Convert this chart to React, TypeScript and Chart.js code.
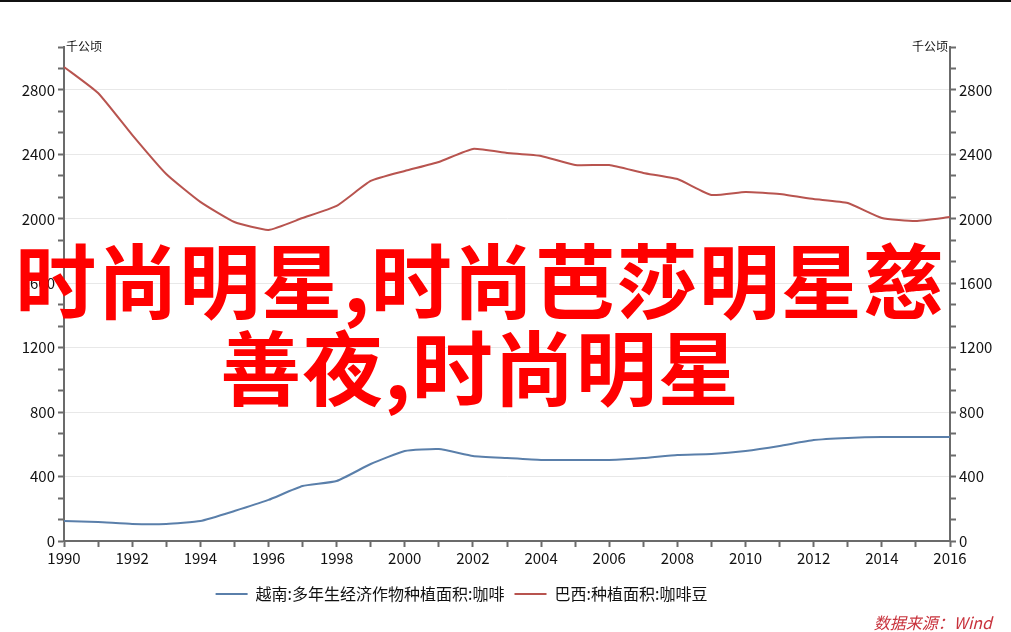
import React, { useEffect, useRef } from "react";
import { Chart, registerables } from "chart.js";

Chart.register(...registerables);

const years = [
  "1990", "1991", "1992", "1993", "1994", "1995", "1996", "1997", "1998", "1999",
  "2000", "2001", "2002", "2003", "2004", "2005", "2006", "2007", "2008", "2009",
  "2010", "2011", "2012", "2013", "2014", "2015", "2016",
];
const vietnam = [
  124, 118, 106, 106, 124, 186, 255, 341, 372, 478,
  559, 571, 528, 515, 503, 503, 503, 515, 534, 540,
  559, 590, 627, 640, 646, 646, 646,
];
const brazil = [
  2943, 2781, 2521, 2278, 2105, 1980, 1931, 2005, 2080, 2235,
  2297, 2353, 2434, 2409, 2390, 2334, 2334, 2285, 2247, 2148,
  2167, 2154, 2123, 2098, 2005, 1987, 2011,
];
const seriesNames = ["越南:多年生经济作物种植面积:咖啡", "巴西:种植面积:咖啡豆"];
const axisUnit = "千公顷";
const yMax = 9200 / 3;
const yMinorStep = 400 / 3;
const yMajorStep = 400;
const sourceText = "数据来源：Wind";
const overlayLines = ["时尚明星,时尚芭莎明星慈", "善夜,时尚明星"];

const FONT = "'Noto Sans CJK SC', 'Noto Sans', sans-serif";
const AXIS_COLOR = "#6b6b6b";
const GRID_COLOR = "#e8e8e8";
const BLUE = "#5a7faa";
const RED = "#b8544f";
const LEGEND_SHIFT = -44;

function isMajor(v: number) {
  const r = Math.round(v);
  return Math.abs(v - r) < 0.01 && r % yMajorStep === 0;
}

const unitPlugin = {
  id: "unitLabels",
  afterLayout(chart: any) {
    const lg = chart.legend;
    if (lg) {
      lg.left += LEGEND_SHIFT;
      lg.right += LEGEND_SHIFT;
    }
  },
  afterDraw(chart: any) {
    const { ctx, chartArea } = chart;
    ctx.save();
    ctx.font = `12px ${FONT}`;
    ctx.fillStyle = "#111";
    ctx.textBaseline = "middle";
    ctx.textAlign = "left";
    ctx.fillText(axisUnit, chartArea.left + 2, chartArea.top - 1);
    ctx.textAlign = "right";
    ctx.fillText(axisUnit, chartArea.right - 2, chartArea.top - 1);
    ctx.restore();
  },
};

export default function App() {
  const canvasRef = useRef<HTMLCanvasElement | null>(null);

  useEffect(() => {
    document.body.style.margin = "0";
    if (!canvasRef.current) return;
    const yTicks = {
      stepSize: yMinorStep,
      autoSkip: false,
      color: "#111",
      font: { family: FONT, size: 15 },
      padding: 3,
      callback: (v: any) => (isMajor(Number(v)) ? String(Math.round(Number(v))) : ""),
    };
    const chart = new Chart(canvasRef.current, {
      type: "line",
      data: {
        labels: years,
        datasets: [
          {
            label: seriesNames[0],
            data: vietnam,
            borderColor: BLUE,
            backgroundColor: BLUE,
            borderWidth: 2,
            pointRadius: 0,
            pointStyle: "line",
            tension: 0.15,
            yAxisID: "y",
          },
          {
            label: seriesNames[1],
            data: brazil,
            borderColor: RED,
            backgroundColor: RED,
            borderWidth: 2,
            pointRadius: 0,
            pointStyle: "line",
            tension: 0.15,
            yAxisID: "y1",
          },
        ],
      },
      options: {
        animation: false,
        responsive: true,
        maintainAspectRatio: false,
        layout: { padding: { top: 47, left: 0, right: 0, bottom: 20 } },
        plugins: {
          tooltip: { enabled: false },
          legend: {
            position: "bottom",
            labels: {
              usePointStyle: true,
              pointStyle: "line",
              pointStyleWidth: 32,
              color: "#111",
              font: { family: FONT, size: 16 },
              padding: 10,
            },
          },
        },
        scales: {
          x: {
            type: "category",
            offset: false,
            grid: {
              drawOnChartArea: false,
              drawTicks: true,
              tickLength: 6,
              tickColor: AXIS_COLOR,
              tickWidth: 2,
              offset: false,
            },
            border: { color: AXIS_COLOR, width: 2 },
            ticks: {
              autoSkip: false,
              maxRotation: 0,
              color: "#111",
              font: { family: FONT, size: 15 },
              padding: 2,
              callback: (_v: any, i: number) => (i % 2 === 0 ? years[i] : ""),
            },
            afterFit: (s: any) => {
              s.height = 35;
            },
          },
          y: {
            type: "linear",
            position: "left",
            min: 0,
            max: yMax,
            grid: {
              drawOnChartArea: true,
              color: (c: any) => (c.tick && isMajor(c.tick.value) && c.tick.value > 0 ? GRID_COLOR : "rgba(0,0,0,0)"),
              tickColor: AXIS_COLOR,
              tickLength: 6,
              tickWidth: 2,
            },
            border: { color: AXIS_COLOR, width: 2 },
            ticks: yTicks as any,
            afterFit: (s: any) => {
              s.width = 64;
            },
          },
          y1: {
            type: "linear",
            position: "right",
            min: 0,
            max: yMax,
            grid: {
              drawOnChartArea: false,
              tickColor: AXIS_COLOR,
              tickLength: 6,
              tickWidth: 2,
            },
            border: { color: AXIS_COLOR, width: 2 },
            ticks: yTicks as any,
            afterFit: (s: any) => {
              s.width = 61;
            },
          },
        },
      },
      plugins: [unitPlugin],
    } as any);
    return () => chart.destroy();
  }, []);

  return (
    <div style={{ position: "relative", width: 1011, height: 632, background: "#fff", overflow: "hidden" }}>
      <div style={{ position: "absolute", left: 0, top: 0, width: 1011, height: 2, background: "#111" }} />
      <canvas ref={canvasRef} />
      <div
        style={{
          position: "absolute",
          left: 0,
          top: 233,
          width: 960,
          textAlign: "center",
          color: "#ff0000",
          fontFamily: FONT,
          fontWeight: 700,
          fontSize: 81,
          letterSpacing: 1,
          lineHeight: "87px",
          whiteSpace: "nowrap",
          pointerEvents: "none",
        }}
      >
        {overlayLines.map((l, i) => (
          <div key={i}>{l}</div>
        ))}
      </div>
      <div
        style={{
          position: "absolute",
          right: 19,
          top: 611,
          color: "#c8323c",
          fontFamily: FONT,
          fontStyle: "italic",
          fontSize: 16,
          lineHeight: "22px",
          whiteSpace: "nowrap",
        }}
      >
        {sourceText}
      </div>
    </div>
  );
}
